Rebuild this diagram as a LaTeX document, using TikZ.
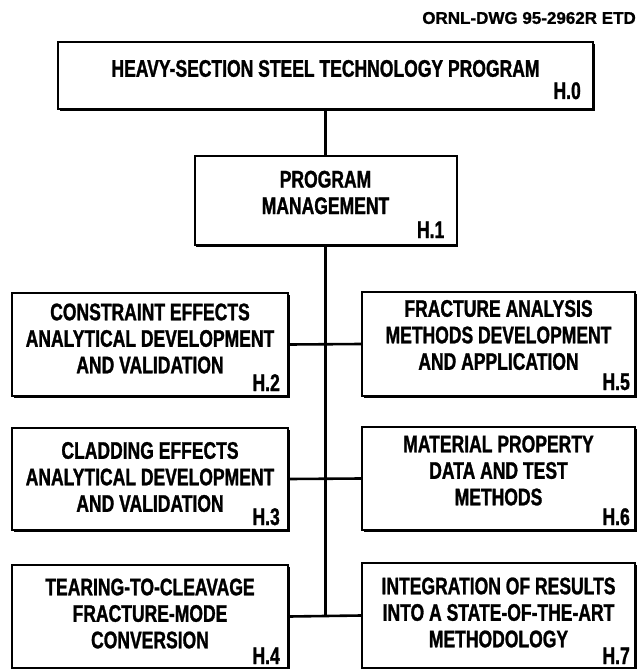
\documentclass[tikz,border=0pt]{standalone}
\usepackage{fontspec}
\newfontfamily\unitfont[FakeStretch=0.73,FakeBold=1.2]{Liberation Sans}
\newfontfamily\stampfont[FakeBold=1]{Liberation Sans}
\usetikzlibrary{shadows}

\begin{document}
\begin{tikzpicture}[x=1pt,y=-1pt,
      unit/.style={draw=black, fill=white, line width=2pt, inner sep=0pt,
        drop shadow={shadow xshift=1.6pt, shadow yshift=-1.6pt,
          opacity=1, fill=black}},
      caption/.style={font=\unitfont\bfseries\fontsize{24}{26.5}\selectfont,
        align=center, inner sep=0pt},
      tag/.style={font=\unitfont\bfseries\fontsize{24}{26.5}\selectfont,
        inner sep=0pt, anchor=base east},
      link/.style={draw=black, line width=2.6pt}]
      \useasboundingbox (0,0) rectangle (643,669);
      \fill[white] (0,0) rectangle (643,669);

      \node[font=\stampfont\bfseries\fontsize{17}{20}\selectfont,
        anchor=east, inner sep=0pt] (dwg) at (636,18) {ORNL-DWG 95-2962R ETD};

      % top of the tree
      \node[unit, minimum width=535pt, minimum height=67pt] (h0) at (325.5,75.5) {};
      \node[caption] (h0text) at ([yshift=7pt]h0.center)
        {HEAVY-SECTION STEEL TECHNOLOGY PROGRAM};
      \node[tag] (h0tag) at ([xshift=-13pt,yshift=11pt]h0.south east) {H.0};

      \node[unit, minimum width=262pt, minimum height=89pt] (h1) at (325.5,200.5) {};
      \node[caption] (h1text) at ([yshift=8pt]h1.center) {PROGRAM\\MANAGEMENT};
      \node[tag] (h1tag) at ([xshift=-13pt,yshift=8pt]h1.south east) {H.1};

      % left column
      \node[unit, minimum width=276pt, minimum height=103pt] (h2) at (150,344.5) {};
      \node[caption] (h2text) at ([yshift=6pt]h2.center)
        {CONSTRAINT EFFECTS\\ANALYTICAL DEVELOPMENT\\AND VALIDATION};
      \node[tag] (h2tag) at ([xshift=-9pt,yshift=6pt]h2.south east) {H.2};

      \node[unit, minimum width=276pt, minimum height=102pt] (h3) at (150,479) {};
      \node[caption] (h3text) at ([yshift=2pt]h3.center)
        {CLADDING EFFECTS\\ANALYTICAL DEVELOPMENT\\AND VALIDATION};
      \node[tag] (h3tag) at ([xshift=-9pt,yshift=6pt]h3.south east) {H.3};

      \node[unit, minimum width=276pt, minimum height=103pt] (h4) at (150,616.5) {};
      \node[caption] (h4text) at ([yshift=3pt]h4.center)
        {TEARING-TO-CLEAVAGE\\FRACTURE-MODE\\CONVERSION};
      \node[tag] (h4tag) at ([xshift=-9pt,yshift=5pt]h4.south east) {H.4};

      % right column
      \node[unit, minimum width=273pt, minimum height=104pt] (h5) at (498.5,344) {};
      \node[caption] (h5text) at ([yshift=9pt]h5.center)
        {FRACTURE ANALYSIS\\METHODS DEVELOPMENT\\AND APPLICATION};
      \node[tag] (h5tag) at ([xshift=-6pt,yshift=7pt]h5.south east) {H.5};

      \node[unit, minimum width=273pt, minimum height=103pt] (h6) at (498.5,478.5) {};
      \node[caption] (h6text) at ([yshift=8pt]h6.center)
        {MATERIAL PROPERTY\\DATA AND TEST\\METHODS};
      \node[tag] (h6tag) at ([xshift=-6pt,yshift=6pt]h6.south east) {H.6};

      \node[unit, minimum width=273pt, minimum height=105pt] (h7) at (498.5,615.5) {};
      \node[caption] (h7text) at ([yshift=3pt]h7.center)
        {INTEGRATION OF RESULTS\\INTO A STATE-OF-THE-ART\\METHODOLOGY};
      \node[tag] (h7tag) at ([xshift=-6pt,yshift=5pt]h7.south east) {H.7};

      % connectors
      \draw[link] (h0) -- (h1);
      \draw[link] (h1.south) -- (h1.south |- h4.east);
      \draw[link] (h2.east) -- (h5.west);
      \draw[link] (h3.east) -- (h6.west);
      \draw[link] (h4.east) -- (h7.west);
    \end{tikzpicture}
\end{document}
